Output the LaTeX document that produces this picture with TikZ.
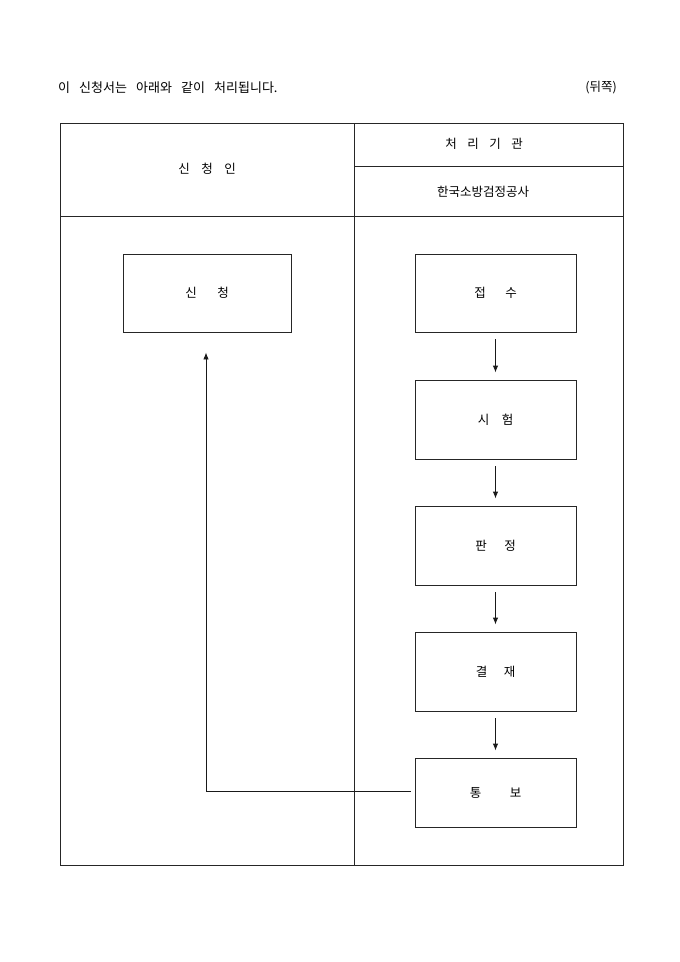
\documentclass[tikz,border=0pt]{standalone}
\usepackage{fontspec}
\setmainfont{Noto Sans CJK KR}
\usetikzlibrary{arrows.meta}
\begin{document}
\begin{tikzpicture}[x=1pt,y=-1pt,
  frame/.style={draw=black!85,line width=0.9pt},
  proc/.style={draw=black!85,line width=0.9pt,rectangle,inner sep=0pt,font=\fontsize{12.5}{14}\selectfont},
  lbl/.style={inner sep=0pt,font=\fontsize{12.5}{14}\selectfont},
  flow/.style={draw=black!90,line width=0.9pt,-{Latex[length=7pt,width=5.5pt]}}]
\useasboundingbox (0,0) rectangle (680,962);
% title line
\node[lbl,anchor=west,font=\fontsize{13}{15}\selectfont] (title) at (58,88) {이\hspace{0.7em}신청서는\hspace{0.7em}아래와\hspace{0.7em}같이\hspace{0.7em}처리됩니다.};
\node[lbl,anchor=east] (side) at (617,88) {(뒤쪽)};
% table frame
\draw[frame] (60,123) rectangle (623,865);
\draw[frame] (354,123) -- (354,865);
\draw[frame] (60,216) -- (623,216);
\draw[frame] (354,166) -- (623,166);
\node[lbl] (applicant) at (207,169) {신\hspace{11.5pt}청\hspace{11.5pt}인};
\node[lbl] (agency) at (484,144) {처\hspace{10.5pt}리\hspace{10.5pt}기\hspace{10.5pt}관};
\node[lbl] (org) at (483,192) {한국소방검정공사};
% boxes
\node[proc,minimum width=168pt,minimum height=78pt] (sc) at (207,293) {신\hspace{20.5pt}청};
\node[proc,minimum width=161pt,minimum height=78pt] (js) at (495.5,293) {접\hspace{19.5pt}수};
\node[proc,minimum width=161pt,minimum height=79pt] (sh) at (495.5,419.5) {시\hspace{12.5pt}험};
\node[proc,minimum width=161pt,minimum height=79pt] (pj) at (495.5,545.5) {판\hspace{17.5pt}정};
\node[proc,minimum width=161pt,minimum height=79pt] (gj) at (495.5,671.5) {결\hspace{16.5pt}재};
\node[proc,minimum width=161pt,minimum height=69pt] (tb) at (495.5,792.5) {통\hspace{28.5pt}보};
% arrows
\draw[flow] ([yshift=-7pt]js.south) -- ([yshift=7pt]sh.north);
\draw[flow] ([yshift=-7pt]sh.south) -- ([yshift=7pt]pj.north);
\draw[flow] ([yshift=-7pt]pj.south) -- ([yshift=7pt]gj.north);
\draw[flow] ([yshift=-7pt]gj.south) -- ([yshift=7pt]tb.north);
\draw[flow] ([xshift=-4pt,yshift=1.5pt]tb.west) -| ([xshift=-1pt,yshift=-20pt]sc.south);
\end{tikzpicture}
\end{document}
